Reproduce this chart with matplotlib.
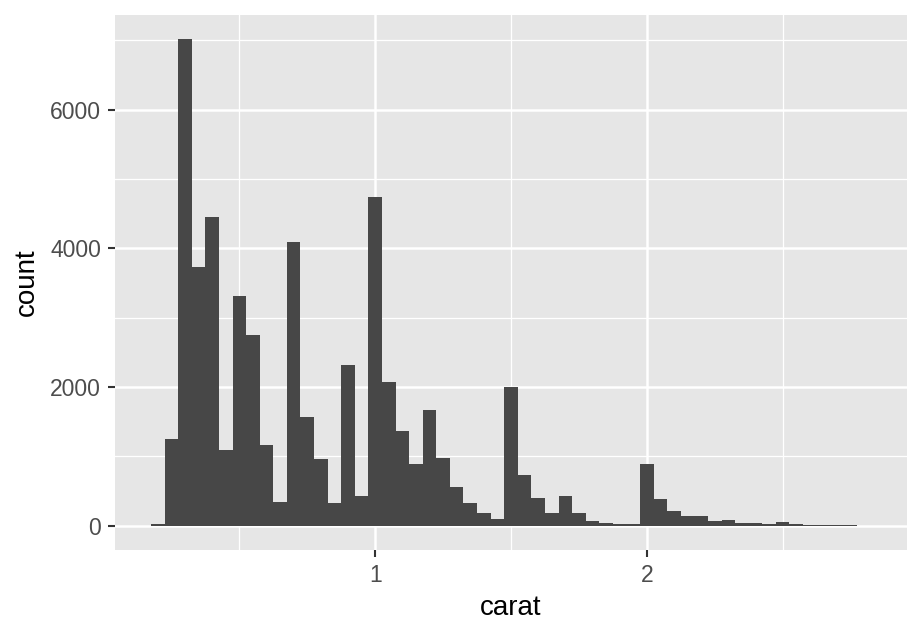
import numpy as np
import matplotlib
matplotlib.use("Agg")
import matplotlib.pyplot as plt
from matplotlib.ticker import MultipleLocator

# histogram of carat, binwidth 0.05, bins centred at 0.20 ... 2.80
bin_width = 0.05
first_center = 0.20
counts = [24, 1249, 7013, 3727, 4448, 1090, 3309, 2747, 1162, 341,
          4088, 1566, 961, 327, 2315, 428,
          4736, 2070, 1364, 889, 1667, 975, 557, 327, 183, 96,
          1998, 730, 399, 183, 427, 183, 67, 38, 22, 18,
          889, 384, 211, 139, 139, 67, 82, 38, 38, 24,
          53, 24, 10, 10, 10, 10, 2]
x_ticks = [1, 2]
y_ticks = [0, 2000, 4000, 6000]

plt.rcParams['font.family'] = ['Liberation Sans', 'DejaVu Sans']

fig = plt.figure(figsize=(9.22, 6.34), dpi=100)
ax = fig.add_axes([115 / 922, 1 - 550 / 634, (907 - 115) / 922, (550 - 15) / 634])
ax.set_facecolor('#E6E6E6')

centers = first_center + bin_width * np.arange(len(counts))
ax.bar(centers, counts, width=bin_width, color='#474747', linewidth=0, zorder=3)

# ggplot-like expansion
lo, hi = centers[0] - bin_width / 2, centers[-1] + bin_width / 2
ax.set_xlim(lo - 0.05 * (hi - lo), hi + 0.05 * (hi - lo))
ymax = max(counts)
ax.set_ylim(-0.05 * ymax, 1.05 * ymax)

ax.set_xticks(x_ticks)
ax.set_yticks(y_ticks)
ax.xaxis.set_minor_locator(MultipleLocator(0.5))
ax.yaxis.set_minor_locator(MultipleLocator(1000))
ax.grid(which='major', color='white', linewidth=1.8, zorder=1)
ax.grid(which='minor', color='white', linewidth=0.9, zorder=1)
ax.set_axisbelow(True)

for s in ax.spines.values():
    s.set_visible(False)

ax.tick_params(which='major', length=5, width=1.5, color='#333333',
               labelcolor='#4D4D4D', labelsize=16.5, pad=5)
ax.tick_params(which='minor', length=0)

ax.set_xlabel('carat', fontsize=20, color='black', labelpad=6)
ax.set_ylabel('count', fontsize=20, color='black', labelpad=7.5)

fig.savefig('out.png', dpi=100, facecolor='white')
